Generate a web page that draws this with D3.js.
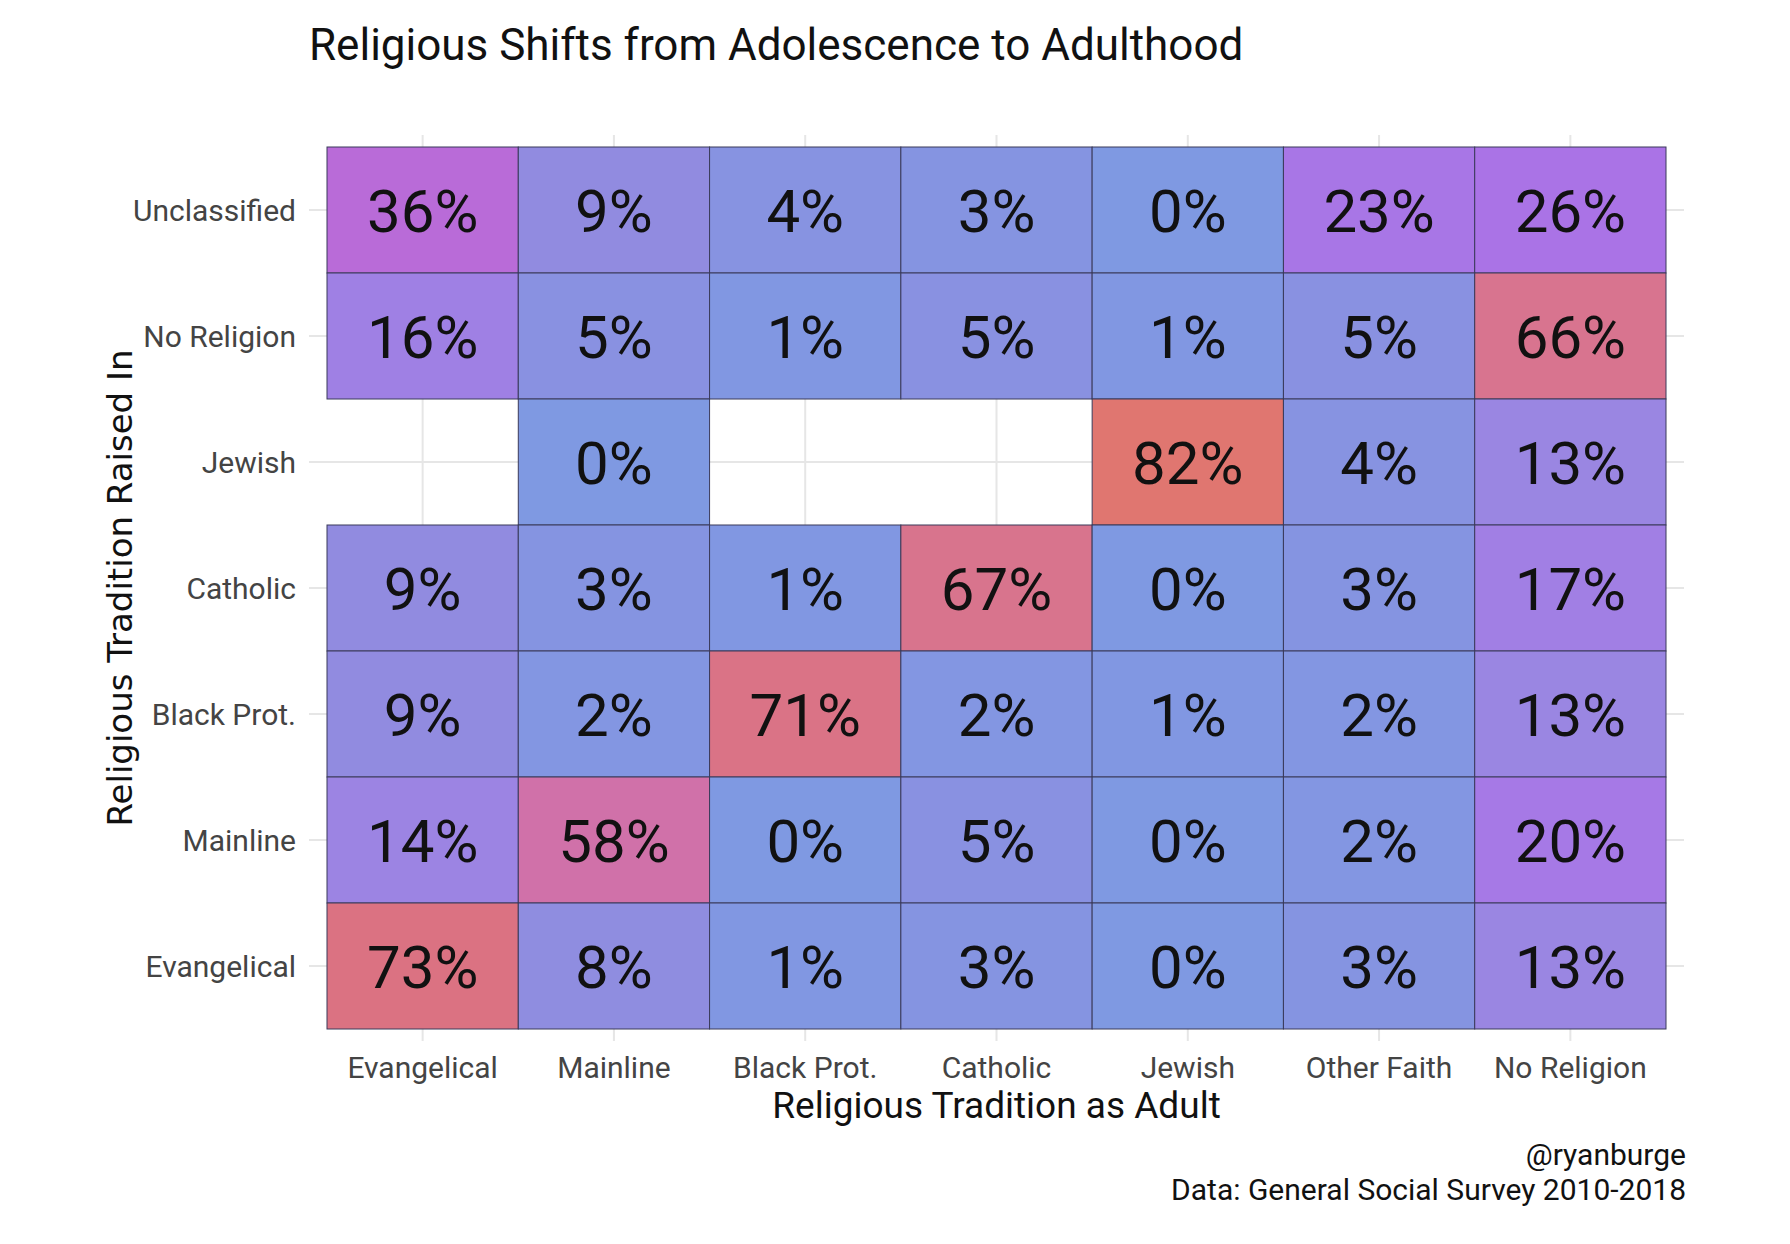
<!DOCTYPE html>
<html>
<head>
<script src="https://d3js.org/d3.v7.min.js"></script>
<style>
  body { margin: 0; background: #fff; }
  text { font-family: "Liberation Sans Narrow", "Roboto", sans-serif; }
</style>
</head>
<body>
<svg id="chart" width="1790" height="1244"></svg>
<script>
var adult = ["Evangelical", "Mainline", "Black Prot.", "Catholic", "Jewish", "Other Faith", "No Religion"];
var raised = ["Unclassified", "No Religion", "Jewish", "Catholic", "Black Prot.", "Mainline", "Evangelical"];
// one row per raised tradition, null = no cell
var values = [
  [36, 9, 4, 3, 0, 23, 26],
  [16, 5, 1, 5, 1, 5, 66],
  [null, 0, null, null, 82, 4, 13],
  [9, 3, 1, 67, 0, 3, 17],
  [9, 2, 71, 2, 1, 2, 13],
  [14, 58, 0, 5, 0, 2, 20],
  [73, 8, 1, 3, 0, 3, 13]
];
var colorStops = [0, 9, 13, 20, 26, 36, 58, 66, 73, 82];
var colorVals = ["#7f99e2", "#918be0", "#9a86e2", "#a679e6", "#aa73e6", "#b96bd8", "#d071a9", "#d8748f", "#db7282", "#e07670"];

var svg = d3.select("#chart");
var L = 327, R = 1666, T = 147, B = 1029;

var x = d3.scaleBand(adult, [L, R]);
var y = d3.scaleBand(raised, [T, B]);
var fill = d3.scaleLinear(colorStops, colorVals);

// grid
var g = svg.append("g").attr("stroke", "#e6e6e6").attr("stroke-width", 2);
adult.forEach(a => g.append("line")
  .attr("x1", x(a) + x.bandwidth() / 2).attr("x2", x(a) + x.bandwidth() / 2)
  .attr("y1", T - 12).attr("y2", B + 12));
raised.forEach(r => g.append("line")
  .attr("y1", y(r) + y.bandwidth() / 2).attr("y2", y(r) + y.bandwidth() / 2)
  .attr("x1", L - 18).attr("x2", R + 18));

var cells = [];
values.forEach((row, i) => row.forEach((v, j) => {
  if (v !== null) cells.push({ r: raised[i], a: adult[j], v: v });
}));

svg.append("g").selectAll("rect").data(cells).enter().append("rect")
  .attr("x", d => x(d.a)).attr("y", d => y(d.r))
  .attr("width", x.bandwidth()).attr("height", y.bandwidth())
  .attr("fill", d => fill(d.v))
  .attr("stroke", "#3a3a5a").attr("stroke-width", 1);

svg.append("g").selectAll("text").data(cells).enter().append("text")
  .attr("x", d => x(d.a) + x.bandwidth() / 2)
  .attr("y", d => y(d.r) + y.bandwidth() / 2)
  .attr("dy", "0.36em").attr("text-anchor", "middle")
  .attr("font-size", 60).attr("fill", "#111")
  .text(d => d.v + "%");

// axis labels
svg.append("g").selectAll("text").data(adult).enter().append("text")
  .attr("x", d => x(d) + x.bandwidth() / 2).attr("y", 1078)
  .attr("text-anchor", "middle").attr("font-size", 30).attr("fill", "#444")
  .text(d => d);
svg.append("g").selectAll("text").data(raised).enter().append("text")
  .attr("x", 296).attr("y", d => y(d) + y.bandwidth() / 2)
  .attr("dy", "0.35em").attr("text-anchor", "end").attr("font-size", 30).attr("fill", "#444")
  .text(d => d);

svg.append("text").attr("x", (L + R) / 2).attr("y", 1118)
  .attr("text-anchor", "middle").attr("font-size", 37).attr("fill", "#111")
  .text("Religious Tradition as Adult");
svg.append("text").attr("transform", "translate(132," + (T + B) / 2 + ") rotate(-90)")
  .attr("text-anchor", "middle").attr("font-size", 34).attr("fill", "#111")
  .style("font-family", "DejaVu Sans")
  .text("Religious Tradition Raised In");

svg.append("text").attr("x", 309).attr("y", 60)
  .attr("font-size", 44).attr("fill", "#111")
  .text("Religious Shifts from Adolescence to Adulthood");

svg.append("text").attr("x", 1686).attr("y", 1165)
  .attr("text-anchor", "end").attr("font-size", 30).attr("fill", "#111").text("@ryanburge");
svg.append("text").attr("x", 1686).attr("y", 1200)
  .attr("text-anchor", "end").attr("font-size", 30).attr("fill", "#111").text("Data: General Social Survey 2010-2018");
</script>
</body>
</html>
